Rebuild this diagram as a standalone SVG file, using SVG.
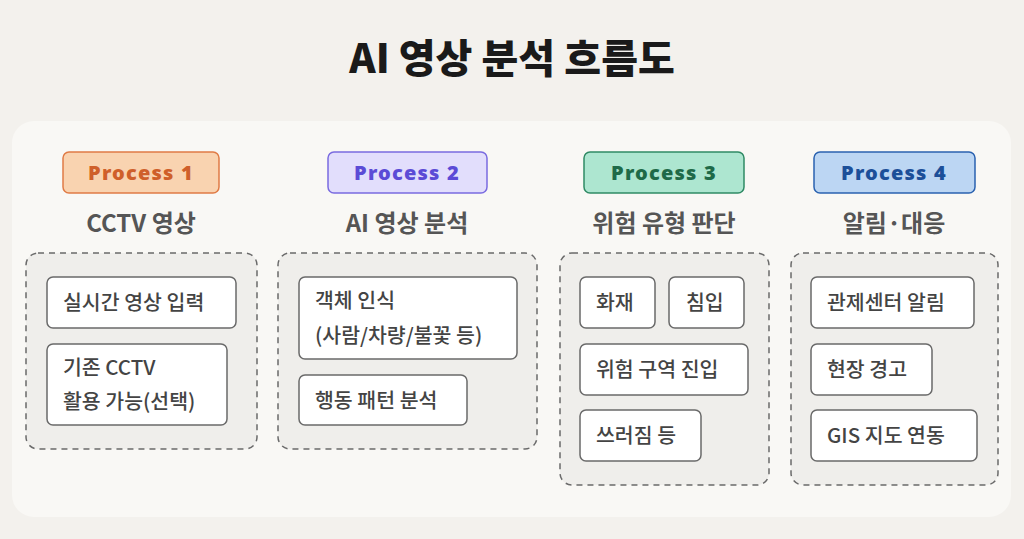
<svg xmlns="http://www.w3.org/2000/svg" width="1024" height="539" viewBox="0 0 1024 539">
<style>
text{font-family:"Noto Sans CJK KR","Noto Sans",sans-serif}
.title{font-size:40px;font-weight:800;fill:#1a1a1a;text-anchor:middle}
.badge text{font-family:"Noto Sans",sans-serif;font-size:20px;font-weight:900;letter-spacing:1.2px;text-anchor:middle}
.sub{font-size:24px;font-weight:700;fill:#555;text-anchor:middle}
.grp{fill:#efeeeb;stroke:#6a6a6a;stroke-width:1.5;stroke-dasharray:6 5}
.item rect{fill:#fff;stroke:#6a6a6a;stroke-width:1.5}
.item text{font-size:20.5px;font-weight:500;fill:#444}
</style>
<rect width="1024" height="539" fill="#f3f1ed"/>
<rect x="12" y="121" width="999" height="396" rx="22" fill="#f9f8f5"/>
<text class="title" x="512" y="73">AI 영상 분석 흐름도</text>
<g id="col1">
<g class="badge"><rect x="63" y="152" width="156" height="41" rx="6" fill="#f9d3b0" stroke="#e07b45" stroke-width="1.5"/><text x="141" y="180" fill="#cf5f2a">Process 1</text></g>
<text class="sub" x="141" y="232">CCTV 영상</text>
<rect class="grp" x="26" y="253" width="231" height="196" rx="12"/>
<g class="item" id="n1a"><rect x="47" y="277" width="189" height="51" rx="6"/><text x="63" y="310">실시간 영상 입력</text></g>
<g class="item" id="n1b"><rect x="47" y="344" width="180" height="81" rx="6"/><text x="63" y="375">기존 CCTV</text><text x="63" y="409">활용 가능(선택)</text></g>
</g>
<g id="col2">
<g class="badge"><rect x="328" y="152" width="159" height="41" rx="6" fill="#e2defc" stroke="#7a6be0" stroke-width="1.5"/><text x="407" y="180" fill="#5b4bd6">Process 2</text></g>
<text class="sub" x="407" y="232">AI 영상 분석</text>
<rect class="grp" x="278" y="253" width="259" height="196" rx="12"/>
<g class="item" id="n2a"><rect x="299" y="277" width="218" height="82" rx="6"/><text x="315" y="308">객체 인식</text><text x="315" y="343">(사람/차량/불꽃 등)</text></g>
<g class="item" id="n2b"><rect x="299" y="375" width="168" height="50" rx="6"/><text x="315" y="408">행동 패턴 분석</text></g>
</g>
<g id="col3">
<g class="badge"><rect x="584" y="152" width="160" height="41" rx="6" fill="#ade6d0" stroke="#2f8a64" stroke-width="1.5"/><text x="664" y="180" fill="#1e6a48">Process 3</text></g>
<text class="sub" x="664" y="232">위험 유형 판단</text>
<rect class="grp" x="560" y="253" width="209" height="232" rx="12"/>
<g class="item" id="n3a"><rect x="580" y="277" width="75" height="51" rx="6"/><text x="596" y="310">화재</text></g>
<g class="item" id="n3b"><rect x="669" y="277" width="75" height="51" rx="6"/><text x="686" y="310">침입</text></g>
<g class="item" id="n3c"><rect x="580" y="344" width="168" height="51" rx="6"/><text x="596" y="377">위험 구역 진입</text></g>
<g class="item" id="n3d"><rect x="580" y="410" width="121" height="51" rx="6"/><text x="596" y="443">쓰러짐 등</text></g>
</g>
<g id="col4">
<g class="badge"><rect x="814" y="152" width="161" height="41" rx="6" fill="#bcd6f3" stroke="#2a62b0" stroke-width="1.5"/><text x="894" y="180" fill="#1c4f99">Process 4</text></g>
<text class="sub" x="894" y="232">알림·대응</text>
<rect class="grp" x="791" y="253" width="207" height="232" rx="12"/>
<g class="item" id="n4a"><rect x="811" y="277" width="163" height="51" rx="6"/><text x="827" y="310">관제센터 알림</text></g>
<g class="item" id="n4b"><rect x="811" y="344" width="121" height="51" rx="6"/><text x="827" y="377">현장 경고</text></g>
<g class="item" id="n4c"><rect x="811" y="410" width="166" height="51" rx="6"/><text x="827" y="443">GIS 지도 연동</text></g>
</g>
<g id="connectors"/>
</svg>
